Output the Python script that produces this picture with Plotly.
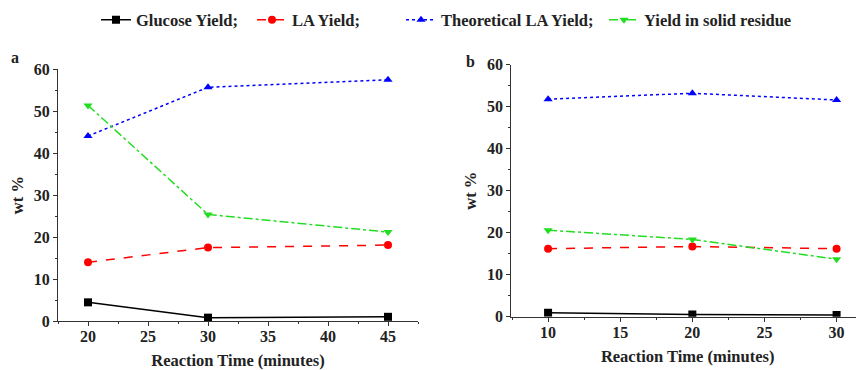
import plotly.graph_objects as go

# Panel a
time_a = [20, 30, 45]
glucose_a = [4.45, 0.8, 1.0]
la_a = [14.0, 17.5, 18.1]
theo_a = [44.1, 55.7, 57.5]
solid_a = [51.4, 25.4, 21.2]

# Panel b
time_b = [10, 20, 30]
glucose_b = [0.95, 0.55, 0.4]
la_b = [16.2, 16.7, 16.2]
theo_b = [51.8, 53.2, 51.6]
solid_b = [20.6, 18.4, 13.7]

names = ["Glucose Yield;", "LA Yield;", "Theoretical LA Yield;", "Yield in solid residue"]
colors = ["#000000", "#ff0000", "#0000ff", "#22dd22"]
dashes = ["solid", "dash", "dot", "dashdot"]
symbols = ["square", "circle", "triangle-up", "triangle-down"]
legend_ids = ["legend", "legend2", "legend3", "legend4"]

FONT = "Liberation Serif"
W, H = 856, 362
OFF = 8  # page body margin


def fx(px):
    return (px - OFF) / W


def fy(py):
    return 1 - (py - OFF) / H


legend_text_px = [137, 293, 442, 645]

fig = go.Figure()

series_a = [glucose_a, la_a, theo_a, solid_a]
series_b = [glucose_b, la_b, theo_b, solid_b]

for i in range(4):
    fig.add_trace(go.Scatter(
        x=time_a, y=series_a[i], name=names[i], mode="lines+markers",
        line=dict(color=colors[i], dash=dashes[i], width=1.5),
        marker=dict(symbol=symbols[i], size=8, color=colors[i]),
        xaxis="x", yaxis="y", showlegend=True, legend=legend_ids[i]))
for i in range(4):
    fig.add_trace(go.Scatter(
        x=time_b, y=series_b[i], name=names[i], mode="lines+markers",
        line=dict(color=colors[i], dash=dashes[i], width=1.5),
        marker=dict(symbol=symbols[i], size=8, color=colors[i]),
        xaxis="x2", yaxis="y2", showlegend=False))

tickfont = dict(family=FONT, size=16, color="#222", weight="bold")
titlefont = dict(family=FONT, size=16.5, color="#222", weight="bold")


def xax(domain, rng, dtick, anchor):
    return dict(domain=domain, range=rng, dtick=dtick, tick0=0, anchor=anchor,
                showgrid=False, zeroline=False, showline=True, linecolor="#333", linewidth=1,
                ticks="outside", ticklen=4, tickcolor="#333", tickfont=tickfont,
                ticklabelstandoff=-3,
                minor=dict(ticks="outside", ticklen=2, dtick=dtick / 2, tickcolor="#333", showgrid=False),
                title=dict(text="Reaction Time (minutes)", font=titlefont, standoff=10))


def yax(domain, anchor):
    return dict(domain=domain, range=[0, 60], dtick=10, anchor=anchor,
                showgrid=False, zeroline=False, showline=True, linecolor="#333", linewidth=1,
                ticks="outside", ticklen=4, tickcolor="#333", tickfont=tickfont,
                minor=dict(ticks="outside", ticklen=2, dtick=5, tickcolor="#333", showgrid=False),
                title=dict(text="wt %", font=titlefont, standoff=6))


legend_font = dict(family=FONT, size=16.5, color="#222", weight="bold")
legends = {}
for i, lid in enumerate(legend_ids):
    legends[lid] = dict(orientation="h", x=(legend_text_px[i] - 49) / W, y=fy(20),
                        xanchor="left", yanchor="middle", font=legend_font,
                        itemwidth=30, bgcolor="rgba(0,0,0,0)")

fig.update_layout(
    width=W, height=H,
    margin=dict(l=0, r=0, t=0, b=0, autoexpand=False),
    paper_bgcolor="white", plot_bgcolor="white",
    xaxis=xax([fx(58), fx(418)], [17.5, 47.5], 5, "y"),
    yaxis=yax([fy(321), fy(69.3)], "x"),
    xaxis2=xax([fx(511.3), 1.0], [7.45, 31.9], 5, "y2"),
    yaxis2=yax([fy(316.7), fy(64.7)], "x2"),
    annotations=[
        dict(text="a", x=fx(15), y=fy(57), xref="paper", yref="paper",
             xanchor="center", yanchor="middle",
             showarrow=False, font=dict(family=FONT, size=16, color="#222", weight="bold")),
        dict(text="b", x=fx(470), y=fy(62), xref="paper", yref="paper",
             xanchor="center", yanchor="middle",
             showarrow=False, font=dict(family=FONT, size=16, color="#222", weight="bold")),
    ],
    **legends,
)

fig.write_html("out.html")
